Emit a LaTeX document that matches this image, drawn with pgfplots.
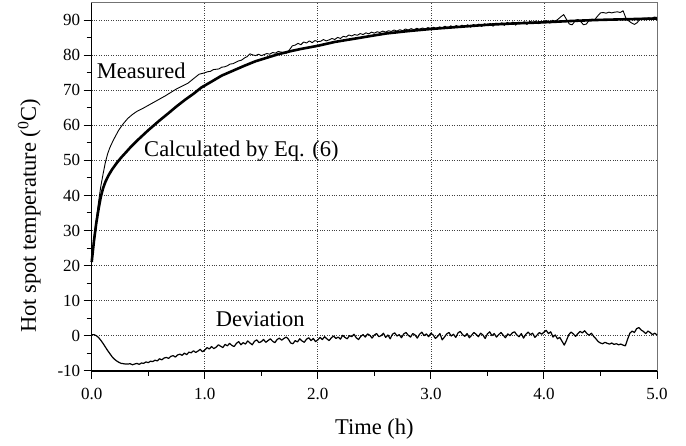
\documentclass[border=0pt]{standalone}
\usepackage{fontspec}
\setmainfont{Liberation Serif}
\usepackage{pgfplots}
\pgfplotsset{compat=1.18}

\begin{document}
\begin{tikzpicture}
\begin{axis}[
  scale only axis,
  width=565.3pt, height=368pt,
  xmin=0, xmax=5, ymin=-10, ymax=95,
  xtick={0,1,2,3,4,5},
  ytick={-10,0,10,20,30,40,50,60,70,80,90},
  minor x tick num=1, minor y tick num=1,
  tick pos=left, tick align=outside,
  major tick length=8pt, minor tick length=5pt,
  every tick/.style={black, line width=1pt},
  xticklabel style={/pgf/number format/fixed, /pgf/number format/fixed zerofill, /pgf/number format/precision=1, yshift=-6pt},
  /pgf/number format/assume math mode=true,
  tick label style={font=\fontsize{17}{20}\selectfont},
  grid=major,
  major grid style={dotted, black!75, line width=0.7pt},
  axis line style={black!55, line width=0.6pt},
  clip=false,
]
% Calculated by Eq. (6)
\addplot[black, line width=2.6pt, line join=round] coordinates {
(0,21) (0.02,27) (0.04,32) (0.06,36) (0.08,39.5) (0.10,42) (0.12,43.8) (0.15,45.8) (0.18,47.4)
(0.22,49.2) (0.26,50.8) (0.30,52.2) (0.35,54) (0.40,55.6) (0.45,57.1) (0.50,58.6) (0.55,60)
(0.60,61.4) (0.68,63.5) (0.75,65.4) (0.83,67.4) (0.90,69) (0.97,70.8) (1.05,72.3) (1.15,74.2)
(1.25,75.6) (1.35,77) (1.45,78.3) (1.55,79.3) (1.65,80.3) (1.75,81.1) (1.85,81.8) (2.0,82.7)
(2.15,83.8) (2.3,84.6) (2.45,85.4) (2.6,86.2) (2.8,86.9) (3.0,87.5) (3.25,88.1) (3.5,88.7)
(3.75,89.1) (4.0,89.4) (4.25,89.8) (4.5,90.1) (4.75,90.3) (5.0,90.5)
};
% Measured
\addplot[black, line width=0.9pt, line join=round] coordinates {
(0,21) (0.02,28) (0.04,33) (0.06,38) (0.08,42.5) (0.10,46) (0.12,49.3) (0.14,51.8) (0.16,53.6)
(0.18,55) (0.20,56.3) (0.24,58.7) (0.28,60.5) (0.32,62) (0.36,63.1) (0.40,64) (0.45,64.8)
(0.50,65.7) (0.55,66.6) (0.60,67.5) (0.65,68.4) (0.70,69.4) (0.75,70.4) (0.80,71.2) (0.85,72.0)
(0.90,73.3) (0.95,74.6)
(1.000,75.0) (1.025,75.3) (1.050,75.4) (1.075,75.9) (1.100,76.0) (1.125,76.1) (1.150,76.6) (1.175,76.7)
(1.200,77.0) (1.225,77.5) (1.250,77.6) (1.275,78.0) (1.300,78.4) (1.325,78.6) (1.350,79.2) (1.375,79.6)
(1.400,80.4) (1.425,80.1) (1.450,79.9) (1.475,80.3) (1.500,79.9) (1.525,80.2) (1.550,80.5) (1.575,80.3)
(1.600,80.8) (1.625,80.6) (1.650,81.1) (1.675,80.9) (1.700,80.8) (1.725,80.6) (1.750,81.6) (1.775,82.7)
(1.800,82.9) (1.825,83.4) (1.850,83.0) (1.875,83.8) (1.900,83.5) (1.925,84.1) (1.950,83.6) (1.975,84.2)
(2.000,83.9) (2.025,84.0) (2.050,84.5) (2.075,84.1) (2.100,84.4) (2.125,84.8) (2.150,84.5) (2.175,85.1)
(2.200,84.8) (2.225,85.4) (2.250,85.2) (2.275,85.8) (2.300,85.5) (2.325,85.9) (2.350,85.7) (2.375,86.2)
(2.400,85.9) (2.425,86.4) (2.450,86.1) (2.475,86.6) (2.500,86.3) (2.525,86.7) (2.550,86.5) (2.575,86.9)
(2.600,86.6) (2.625,87.0) (2.650,86.8) (2.675,87.2) (2.700,86.9) (2.725,87.3) (2.750,87.0) (2.775,87.5)
(2.800,87.2) (2.825,87.6) (2.850,87.3) (2.875,87.7) (2.900,87.4) (2.925,87.8) (2.950,87.5) (2.975,87.9)
(3.000,87.6) (3.025,88.0) (3.050,87.5) (3.075,88.1) (3.100,87.8) (3.125,88.3) (3.150,87.7) (3.175,88.4)
(3.200,88.0) (3.225,88.5) (3.250,87.9) (3.275,88.6) (3.300,88.2) (3.325,88.7) (3.350,88.0) (3.375,88.8)
(3.400,88.4) (3.425,88.9) (3.450,88.2) (3.475,89.0) (3.500,88.5) (3.525,89.1) (3.550,88.3) (3.575,89.2)
(3.600,88.7) (3.625,89.3) (3.650,88.5) (3.675,89.4) (3.700,88.9) (3.725,89.5) (3.750,88.6) (3.775,89.4)
(3.800,89.0) (3.825,89.6) (3.850,88.8) (3.875,89.7) (3.900,89.2) (3.925,89.8) (3.950,89.0) (3.975,89.7)
(4.000,89.4) (4.025,89.9) (4.050,89.2) (4.075,90.0) (4.100,89.7) (4.125,90.3) (4.150,91.0) (4.175,91.6)
(4.200,90.2) (4.225,88.9) (4.250,88.7) (4.275,89.8) (4.300,90.2) (4.325,89.6) (4.350,88.7) (4.375,88.9)
(4.400,90.0) (4.425,90.3) (4.450,90.2) (4.475,91.2) (4.500,92.1) (4.525,92.2) (4.550,92.0) (4.575,92.3)
(4.600,92.1) (4.625,92.3) (4.650,92.4) (4.675,92.2) (4.700,92.7) (4.725,90.6) (4.750,89.8) (4.775,89.2)
(4.800,88.8) (4.825,89.3) (4.850,90.4) (4.875,90.6) (4.900,90.3) (4.925,90.7) (4.950,90.5) (4.975,90.9)
(5.000,90.8)
};
% Deviation
\addplot[black, line width=1.2pt, line join=round] coordinates {
(0,0.3) (0.02,0.3) (0.04,0.0) (0.06,-0.5) (0.08,-1.3) (0.10,-2.2) (0.12,-3.2) (0.14,-4.2) (0.16,-5.1)
(0.18,-6.0) (0.20,-6.7) (0.22,-7.2) (0.24,-7.6) (0.26,-7.9) (0.28,-8.0) (0.30,-8.1) (0.32,-8.1)
(0.34,-8.0) (0.36,-8.3) (0.38,-8.1) (0.40,-7.9) (0.42,-8.2) (0.44,-7.8) (0.46,-7.9) (0.48,-7.5)
(0.50,-7.7) (0.52,-7.3) (0.54,-7.4) (0.56,-7.0) (0.58,-7.2) (0.60,-6.6) (0.62,-6.9) (0.64,-6.4)
(0.66,-6.2) (0.68,-6.5) (0.70,-5.9) (0.72,-5.7) (0.74,-6.1) (0.76,-5.5) (0.78,-5.3) (0.80,-5.6)
(0.82,-5.0) (0.84,-5.4) (0.86,-4.7) (0.88,-4.9) (0.90,-4.3) (0.92,-4.8) (0.94,-4.4) (0.96,-3.9)
(0.98,-4.6) (1.00,-4.1) (1.02,-3.4) (1.04,-3.8) (1.06,-3.1) (1.08,-3.7) (1.10,-3.3) (1.12,-2.6)
(1.14,-3.0) (1.16,-3.4) (1.18,-2.5) (1.20,-2.9) (1.22,-2.2) (1.24,-2.8) (1.26,-3.1) (1.28,-2.2)
(1.30,-1.7) (1.32,-2.6) (1.34,-2.0) (1.36,-2.4) (1.38,-1.5) (1.40,-2.1) (1.42,-2.6) (1.44,-1.6)
(1.46,-1.2) (1.48,-2.0) (1.50,-1.7) (1.52,-1.1) (1.54,-1.9) (1.56,-1.4) (1.58,-0.9) (1.60,-1.6)
(1.62,-2.0) (1.64,-1.1) (1.66,-0.7) (1.68,-1.3) (1.70,-0.8) (1.72,-0.4) (1.74,-1.0) (1.76,-2.1)
(1.78,-2.3) (1.80,-1.4) (1.82,-1.8) (1.84,-0.9) (1.86,-1.5) (1.88,-1.9) (1.90,-1.0) (1.92,-0.6)
(1.94,-1.4) (1.96,-0.8) (1.98,-1.7) (2.00,-1.2) (2.02,-0.5) (2.04,-1.1) (2.06,-0.3) (2.08,-0.9)
(2.10,-1.4) (2.12,-0.6) (2.14,-0.1) (2.16,-0.8) (2.18,-0.4) (2.20,-1.0) (2.22,0.1) (2.24,-0.5)
(2.26,-0.9) (2.28,0.0) (2.30,-0.3) (2.32,0.4) (2.34,-0.6) (2.36,-1.1) (2.38,-0.2) (2.40,0.3)
(2.42,-0.4) (2.44,0.5) (2.46,0.1) (2.48,-0.7) (2.50,0.2) (2.52,0.6) (2.54,-0.3) (2.56,0.0)
(2.58,0.7) (2.60,-0.5) (2.62,0.2) (2.64,-0.9) (2.66,0.4) (2.68,0.8) (2.70,-0.1) (2.72,0.3)
(2.74,-0.6) (2.76,0.5) (2.78,0.9) (2.80,0.1) (2.82,-0.4) (2.84,0.6) (2.86,0.2) (2.88,-0.7)
(2.90,0.4) (2.92,1.0) (2.94,0.0) (2.96,0.5) (2.98,-0.3) (3.00,0.7) (3.02,0.2) (3.04,-0.8)
(3.06,-0.2) (3.08,0.6) (3.10,-1.2) (3.12,-0.4) (3.14,0.5) (3.16,0.9) (3.18,-0.1) (3.20,0.4)
(3.22,-0.5) (3.24,0.8) (3.26,1.2) (3.28,0.3) (3.30,-0.2) (3.32,0.6) (3.34,-0.6) (3.36,0.1)
(3.38,0.9) (3.40,0.4) (3.42,-0.3) (3.44,0.7) (3.46,0.2) (3.48,-0.8) (3.50,0.5) (3.52,1.1)
(3.54,0.0) (3.56,0.6) (3.58,-0.4) (3.60,0.3) (3.62,0.9) (3.64,0.1) (3.66,-0.6) (3.68,0.5)
(3.70,0.0) (3.72,0.8) (3.74,1.1) (3.76,0.2) (3.78,-0.3) (3.80,0.6) (3.82,-0.7) (3.84,0.4)
(3.86,1.0) (3.88,0.3) (3.90,0.7) (3.92,-0.5) (3.94,0.2) (3.96,0.9) (3.98,0.4) (4.00,1.0)
(4.02,1.5) (4.04,0.6) (4.06,1.1) (4.08,-0.4) (4.10,0.2) (4.12,-0.9) (4.14,-0.5) (4.16,-1.6)
(4.18,-2.7) (4.20,-1.3) (4.22,0.3) (4.24,1.0) (4.26,0.5) (4.28,-0.2) (4.30,0.6) (4.32,1.2)
(4.34,0.8) (4.36,1.4) (4.38,0.6) (4.40,0.1) (4.42,0.7) (4.44,-0.2) (4.46,-0.9) (4.48,-1.7)
(4.50,-2.1) (4.52,-2.3) (4.54,-1.9) (4.56,-2.2) (4.58,-2.4) (4.60,-2.1) (4.62,-2.5) (4.64,-2.3)
(4.66,-2.6) (4.68,-2.4) (4.70,-2.7) (4.72,-2.9) (4.74,-1.0) (4.76,0.7) (4.78,1.3) (4.80,0.9)
(4.82,2.0) (4.84,2.3) (4.86,1.6) (4.88,1.2) (4.90,0.6) (4.92,1.3) (4.94,0.9) (4.96,0.3)
(4.98,0.7) (5.00,0.2)
};
% thick left and bottom axis lines
\draw[black, line width=1.6pt] (rel axis cs:0,1) -- (rel axis cs:0,0) -- (rel axis cs:1,0);
% annotations
\node[anchor=base west, inner sep=0pt, font=\fontsize{22.5}{27}\selectfont] at (axis cs:0.044,73.5) {Measured};
\node[anchor=base west, inner sep=0pt, font=\fontsize{22.5}{27}\selectfont] at (axis cs:0.463,51.1) {Calculated by Eq. (6)};
\node[anchor=base west, inner sep=0pt, font=\fontsize{22.5}{27}\selectfont] at (axis cs:1.097,2.5) {Deviation};
% axis labels
\node[rotate=90, anchor=base, inner sep=0pt, font=\fontsize{22.5}{27}\selectfont] at ([xshift=-55.7pt]axis cs:0,34.2) {Hot spot temperature (\textsuperscript{0}C)};
\node[anchor=base, inner sep=0pt, font=\fontsize{22.5}{27}\selectfont] at ([yshift=-63.5pt]axis cs:2.5,-10) {Time (h)};
\end{axis}
\pgfresetboundingbox
\useasboundingbox (current axis.south west) ++(-91.7pt,-74.3pt) rectangle ++(686pt,445pt);
\end{tikzpicture}
\end{document}
